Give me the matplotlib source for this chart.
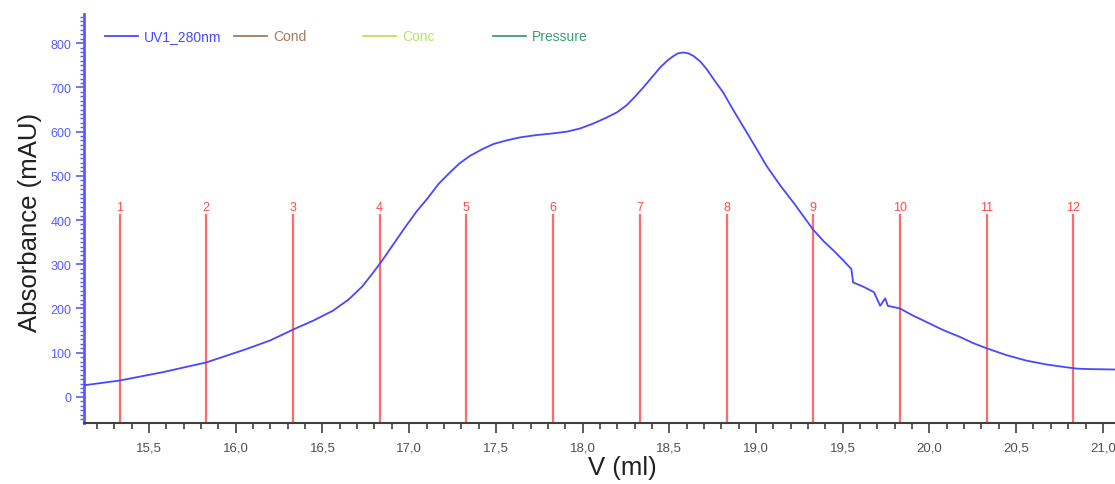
import matplotlib
matplotlib.use("Agg")
import matplotlib.pyplot as plt
from matplotlib.ticker import MultipleLocator, FuncFormatter
from matplotlib.lines import Line2D

plt.rcParams['font.family'] = ['Liberation Sans', 'DejaVu Sans']

# UV trace (ml, mAU)
volume = [15.10, 15.33, 15.58, 15.83, 16.06, 16.20, 16.34, 16.45, 16.56, 16.65,
          16.73, 16.79, 16.84, 16.97, 17.04, 17.11, 17.17, 17.236, 17.29, 17.35,
          17.42, 17.486, 17.56, 17.64, 17.73, 17.83, 17.91, 17.985, 18.06, 18.14,
          18.20, 18.255, 18.30, 18.35, 18.40, 18.447, 18.49, 18.524, 18.55, 18.58,
          18.61, 18.64, 18.68, 18.716, 18.76, 18.81, 18.87, 18.947, 19.00, 19.06,
          19.14, 19.215, 19.28, 19.33, 19.39, 19.447, 19.50, 19.55, 19.56, 19.62,
          19.68, 19.716, 19.745, 19.76, 19.83, 19.90, 19.985, 20.08, 20.18, 20.25,
          20.33, 20.44, 20.56, 20.68, 20.79, 20.85, 20.91, 21.07]
uv280 = [25, 37, 56, 78, 108, 128, 154, 173, 195, 220,
         250, 280, 306, 380, 418, 451, 482, 508, 528, 545,
         560, 572, 580, 587, 592, 596, 600, 607, 618, 632,
         644, 660, 678, 700, 723, 745, 761, 771, 777, 779,
         777, 771, 758, 741, 716, 689, 648, 598, 563, 523,
         478, 440, 405, 378, 352, 331, 310, 289, 259, 249,
         237, 206, 223, 206, 200, 185, 169, 151, 135, 122,
         110, 95, 82, 73, 67, 64, 63, 62]

# fraction marks
frac_pos = [15.33, 15.83, 16.33, 16.83, 17.33, 17.83, 18.33, 18.83, 19.33, 19.83, 20.33, 20.83]
frac_labels = ["1", "2", "3", "4", "5", "6", "7", "8", "9", "10", "11", "12"]

legend_names = ["UV1_280nm", "Cond", "Conc", "Pressure"]
legend_colors = ["#4848ff", "#a47c5a", "#b8e35e", "#3f9e72"]

W, H = 1115, 485
fig = plt.figure(figsize=(W / 100, H / 100), dpi=100)
ax = fig.add_axes([84 / W, 1 - 424 / H, 1 - 84 / W, (424 - 15) / H])

ax.plot(volume, uv280, color="#4848ff", lw=1.3, zorder=3)

ymin, ymax = -59, 866
for p, lab in zip(frac_pos, frac_labels):
    ax.plot([p, p], [ymin, 412], color="#ff6a6a", lw=1.6, zorder=2)
    ax.text(p, 416, lab, color="#ff4a4a", fontsize=9, ha="center", va="bottom")

ax.set_xlim(15.125, 21.07)
ax.set_ylim(ymin, ymax)

for s in ["top", "right"]:
    ax.spines[s].set_visible(False)
ax.spines["left"].set_color("#5a5aff")
ax.spines["left"].set_linewidth(2)
ax.spines["bottom"].set_color("#404040")
ax.spines["bottom"].set_linewidth(1.5)

ax.xaxis.set_major_locator(MultipleLocator(0.5))
ax.xaxis.set_minor_locator(MultipleLocator(0.1))
ax.xaxis.set_major_formatter(FuncFormatter(lambda v, p: ("%.1f" % v).replace(".", ",")))
ax.yaxis.set_major_locator(MultipleLocator(100))
ax.yaxis.set_minor_locator(MultipleLocator(10))

ax.tick_params(axis="x", which="major", length=7, width=1.2, color="#404040",
               labelcolor="#505050", labelsize=9.5, pad=6)
ax.tick_params(axis="x", which="minor", length=4, width=1.2, color="#404040")
ax.tick_params(axis="y", which="major", length=6, width=1.2, color="#5a5aff",
               labelcolor="#5a5aff", labelsize=9, pad=3)
ax.tick_params(axis="y", which="minor", length=3, width=1.0, color="#5a5aff")

fig.text(30 / W, 1 - 222 / H, "Absorbance (mAU)", rotation=90, fontsize=18.5,
         ha="center", va="center", color="#202020")
fig.text(622 / W, 1 - 468 / H, "V (ml)", fontsize=18.5, ha="center", va="center",
         color="#202020")

# legend row along the top
slot_x = [105, 234, 363, 493]
for x0, name, c in zip(slot_x, legend_names, legend_colors):
    y = 1 - 37 / H
    fig.add_artist(Line2D([x0 / W, (x0 + 33) / W], [y, y], color=c, lw=1.3,
                          transform=fig.transFigure))
    fig.text((x0 + 39) / W, y, name, color=c, fontsize=10, ha="left", va="center")

fig.savefig("out.png", dpi=100)
